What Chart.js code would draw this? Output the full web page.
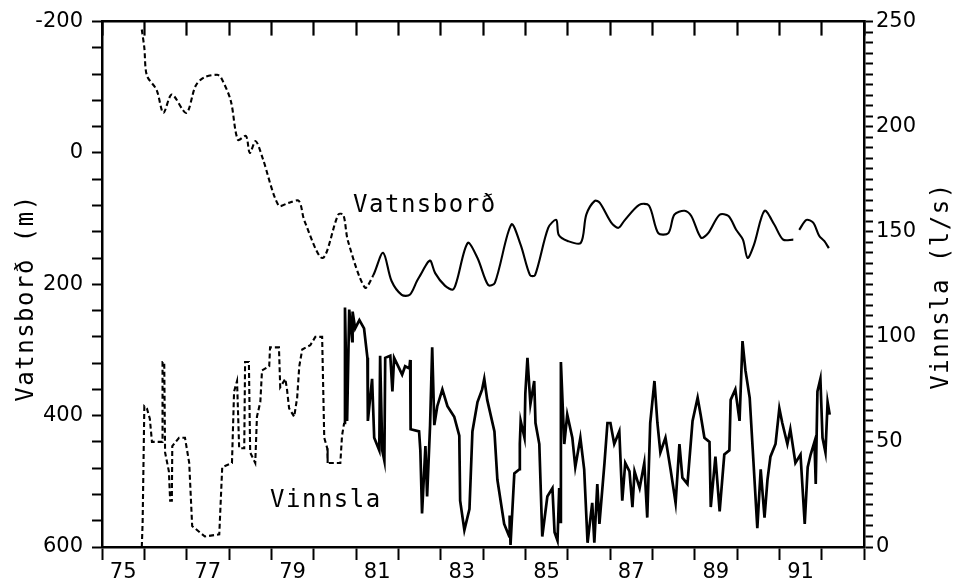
<!DOCTYPE html>
<html lang="is">
<head>
    <meta charset="UTF-8">
    <title>Vatnsborð og vinnsla</title>
    <script src="https://cdn.jsdelivr.net/npm/chart.js"></script>
    <style>
        body { margin: 0; background: #fff; }
    </style>
</head>
<body>
    <canvas id="levelChart" width="957" height="581"></canvas>

    <script>
        // Vatnsborð (m), left axis, reversed. null = gap in the record
        var waterYears = [75.94, 76.00, 76.06, 76.29, 76.45, 76.65, 76.99, 77.21, 77.41, 77.72, 77.81,
            78.04, 78.21, 78.40, 78.49, 78.63, 78.79, 79.17, 79.41, 79.65, 79.78, 80.21, 80.58, 80.70,
            80.81, 81.21, 81.41, 81.64, 81.84, 82.08, 82.27, 82.44, 82.52, 82.69, 82.76, 82.87, 83.10,
            83.29, 83.38, 83.64, 83.87, 84.12, 84.28, 84.67, 84.89, 85.11, 85.23, 85.54, 85.73, 85.79,
            86.00, 86.31, 86.44, 86.64, 86.76, 87.03, 87.20, 87.34, 87.69, 87.92, 88.14, 88.38, 88.52,
            88.76, 88.92, 89.15, 89.32, 89.59, 89.80, 89.98, 90.14, 90.25, 90.40, 90.65, 90.88, 91.09,
            91.33, 91.40, 91.47, 91.64, 91.80, 91.94, 92.06, 92.17];
        var waterLevel = [-188, -160, -118, -96, -61, -89, -61, -102, -115, -119, -115,
            -80, -20, -26, 0, -18, 7, 80, 76, 73, 103, 160, 94, 94,
            134, 205, 186, 152, 195, 216, 216, 195, 186, 167, 164, 183, 202,
            208, 195, 137, 160, 201, 198, 109, 140, 186, 186, 114, 102, 125,
            134, 137, 94, 73, 76, 106, 114, 103, 79, 80, 122, 122, 94,
            88, 96, 129, 122, 94, 96, 117, 132, 160, 140, 88, 109, 132,
            132, null, 117, 102, 106, 126, 134, 145];
        var waterDashedUntil = 81.45;

        // Vinnsla (l/s), right axis
        var prodYears = [75.94, 75.96, 76.00, 76.06, 76.13, 76.18, 76.42, 76.43, 76.47, 76.49, 76.58,
            76.61, 76.65, 76.66, 76.82, 76.96, 77.06, 77.13, 77.43, 77.77, 77.84, 78.07, 78.12, 78.19,
            78.24, 78.36, 78.38, 78.47, 78.50, 78.62, 78.66, 78.74, 78.78, 78.95, 78.97, 79.18, 79.21,
            79.33, 79.37, 79.42, 79.54, 79.61, 79.66, 79.73, 79.92, 80.04, 80.20, 80.25, 80.32, 80.33,
            80.63, 80.67, 80.72,
            80.74, 80.79, 80.84, 80.91, 80.92, 80.98, 81.08, 81.19, 81.27, 81.28, 81.38, 81.43, 81.55,
            81.57, 81.62, 81.67, 81.69, 81.81, 81.86, 81.90, 82.02, 82.09, 82.16, 82.26, 82.28, 82.29,
            82.49, 82.52, 82.56, 82.64, 82.68, 82.75, 82.80, 82.85, 82.92, 83.04, 83.16, 83.32, 83.44,
            83.46, 83.56, 83.68, 83.75, 83.87, 83.98, 84.03, 84.10, 84.27, 84.34, 84.50, 84.62, 84.63,
            84.65, 84.74, 84.86, 84.87, 84.89, 84.98, 85.00, 85.05, 85.12, 85.21, 85.24, 85.33, 85.40,
            85.52, 85.64, 85.69, 85.76, 85.80, 85.83, 85.84, 85.92, 85.99, 86.11, 86.18, 86.30, 86.39,
            86.47, 86.58, 86.63, 86.70, 86.75, 86.87, 86.94, 87.01, 87.10, 87.22, 87.29, 87.36, 87.46,
            87.53, 87.58, 87.70, 87.81, 87.88, 87.95, 88.05, 88.12, 88.19, 88.31, 88.43, 88.55, 88.64,
            88.71, 88.83, 88.95, 89.07, 89.14, 89.23, 89.35, 89.38, 89.49, 89.59, 89.70, 89.82, 89.85,
            89.96, 90.06, 90.13, 90.20, 90.30, 90.37, 90.48, 90.56, 90.65, 90.72, 90.79, 90.91, 91.00,
            91.07, 91.19, 91.26, 91.38, 91.50, 91.60, 91.67, 91.74, 91.83, 91.86, 91.90, 91.97, 92.02,
            92.09, 92.14, 92.19];
        var prodRate = [0, 12, 67, 66, 61, 50, 50, 88, 88, 45, 36,
            22, 22, 48, 52, 52, 40, 10, 5, 6, 38, 40, 74, 79,
            47, 47, 88, 88, 45, 40, 62, 69, 84, 86, 95, 95, 76,
            80, 75, 66, 62, 71, 86, 94, 96, 100, 100, 52, 47, 40,
            40, 53, 59,
            114, 60, 113, 98, 112, 104, 108, 104, 90, 60, 80, 52, 46,
            91, 46, 41, 90, 91, 74, 90, 85, 82, 86, 85, 89, 56,
            55, 46, 16, 48, 24, 58, 95, 58, 67, 75, 67, 62, 53,
            22, 8, 18, 55, 69, 75, 80, 70, 55, 32, 11, 5, 15,
            1, 35, 37, 49, 60, 52, 73, 90, 68, 79, 59, 49, 5,
            24, 28, 7, 3, 28, 12, 88, 49, 63, 52, 38, 52, 37,
            2, 21, 2, 30, 11, 40, 59, 59, 49, 55, 22, 40, 36,
            19, 36, 28, 40, 14, 59, 79, 59, 45, 52, 37, 21, 49,
            33, 30, 60, 71, 63, 52, 50, 19, 43, 17, 44, 46, 70,
            75, 60, 98, 84, 71, 47, 9, 37, 14, 32, 43, 49, 66,
            59, 49, 56, 40, 44, 11, 38, 44, 50, 30, 74, 80, 52,
            45, 69, 63];
        var prodDashedUntil = 80.73;

        // axis ticks
        var yearTicks = [75, 76, 77, 78, 79, 80, 81, 82, 83, 84, 85, 86, 87, 88, 89, 90, 91, 92, 93];
        var labelYears = [75, 77, 79, 81, 83, 85, 87, 89, 91];
        var levelTicks = [-200, -160, -120, -80, -40, 0, 40, 80, 120, 160, 200, 240, 280, 320, 360,
            400, 440, 480, 520, 560, 600];
        var levelLabels = [-200, 0, 200, 400, 600];
        var rateLabels = [0, 50, 100, 150, 200, 250];

        var tickFont = { family: 'DejaVu Sans', size: 21 };
        var textFont = '24px "DejaVu Sans Mono"';

        function points(xs, ys) {
            return xs.map(function (x, i) { return { x: x, y: ys[i] }; });
        }

        // every 5 l/s gets a tick mark on the right axis
        var rateTicks = [];
        for (var r = 0; r <= 250; r += 5) rateTicks.push(r);

        // year labels sit in the middle of the year, between the tick marks
        var xTicks = yearTicks.concat(labelYears.map(function (y) { return y + 0.5; }))
            .sort(function (a, b) { return a - b; });

        // series names inside the plot and the two axis titles (both read upwards)
        var textPlugin = {
            id: 'textPlugin',
            afterDraw: function (chart) {
                var c = chart.ctx, s = chart.scales;
                c.save();
                c.fillStyle = '#000';
                c.font = textFont;
                c.letterSpacing = '1.5px';
                c.textAlign = 'left';
                c.textBaseline = 'alphabetic';
                c.fillText('Vatnsborð', s.x.getPixelForValue(80.93), s.y.getPixelForValue(90));
                c.fillText('Vinnsla', s.x.getPixelForValue(78.97), s.y2.getPixelForValue(19));

                c.textAlign = 'center';
                c.textBaseline = 'middle';
                c.translate(27, 298);
                c.rotate(-Math.PI / 2);
                c.fillText('Vatnsborð (m)', 0, 0);
                c.rotate(Math.PI / 2);
                c.translate(942 - 27, 286 - 298);
                c.rotate(-Math.PI / 2);
                c.fillText('Vinnsla (l/s)', 0, 0);
                c.restore();
            }
        };

        var ctx = document.getElementById('levelChart').getContext('2d');
        var levelChart = new Chart(ctx, {
            type: 'line',
            data: {
                datasets: [{
                    label: 'Vatnsborð',
                    data: points(waterYears, waterLevel),
                    yAxisID: 'y',
                    borderColor: '#000',
                    borderWidth: 2.1,
                    pointRadius: 0,
                    tension: 0.3,
                    spanGaps: false,
                    segment: {
                        borderDash: function (c) { return c.p1.parsed.x <= waterDashedUntil ? [5, 3] : []; }
                    }
                }, {
                    label: 'Vinnsla',
                    data: points(prodYears, prodRate),
                    yAxisID: 'y2',
                    borderColor: '#000',
                    borderWidth: 2.7,
                    pointRadius: 0,
                    tension: 0,
                    segment: {
                        borderDash: function (c) { return c.p1.parsed.x <= prodDashedUntil ? [5, 3] : []; },
                        borderWidth: function (c) { return c.p1.parsed.x <= prodDashedUntil ? 2.1 : 2.7; }
                    }
                }]
            },
            options: {
                responsive: false,
                animation: false,
                layout: { padding: { top: 21 } },
                plugins: { legend: { display: false }, tooltip: { enabled: false } },
                scales: {
                    x: {
                        type: 'linear',
                        position: 'bottom',
                        min: 75,
                        max: 93,
                        afterBuildTicks: function (s) { s.ticks = xTicks.map(function (v) { return { value: v }; }); },
                        afterFit: function (s) { s.height = 34; },
                        grid: {
                            drawOnChartArea: false,
                            tickLength: 13,
                            tickWidth: 2,
                            tickColor: function (c) { return Number.isInteger(c.tick.value) ? '#000' : 'rgba(0,0,0,0)'; }
                        },
                        border: { color: '#000', width: 2.5 },
                        ticks: {
                            autoSkip: false,
                            maxRotation: 0,
                            padding: 0,
                            color: '#000',
                            font: tickFont,
                            callback: function (v) { return Number.isInteger(v) ? '' : String(v - 0.5); }
                        }
                    },
                    // top frame: a zero-height axis whose year ticks point into the plot
                    xTop: {
                        type: 'linear',
                        position: 'top',
                        min: 75,
                        max: 93,
                        afterBuildTicks: function (s) { s.ticks = yearTicks.map(function (v) { return { value: v }; }); },
                        afterFit: function (s) { s.height = 0; },
                        grid: { drawOnChartArea: false, tickLength: -14, tickWidth: 2.2, tickColor: '#000' },
                        border: { color: '#000', width: 2.5 },
                        ticks: { display: false }
                    },
                    y: {
                        position: 'left',
                        min: -200,
                        max: 600,
                        reverse: true,
                        afterBuildTicks: function (s) { s.ticks = levelTicks.map(function (v) { return { value: v }; }); },
                        afterFit: function (s) { s.width = 102; },
                        grid: { drawOnChartArea: false, tickLength: 10, tickWidth: 2, tickColor: '#000' },
                        border: { color: '#000', width: 2.5 },
                        ticks: {
                            autoSkip: false,
                            padding: 9,
                            color: '#000',
                            font: tickFont,
                            callback: function (v) { return levelLabels.indexOf(v) >= 0 ? String(v) : ''; }
                        }
                    },
                    y2: {
                        position: 'right',
                        min: 0,
                        max: 250,
                        afterBuildTicks: function (s) { s.ticks = rateTicks.map(function (v) { return { value: v }; }); },
                        afterFit: function (s) { s.width = 93; },
                        grid: { drawOnChartArea: false, tickLength: 9, tickWidth: 2, tickColor: '#000' },
                        border: { color: '#000', width: 2.5 },
                        ticks: {
                            autoSkip: false,
                            padding: 3,
                            color: '#000',
                            font: tickFont,
                            callback: function (v) { return rateLabels.indexOf(v) >= 0 ? String(v) : ''; }
                        }
                    }
                }
            },
            plugins: [textPlugin]
        });
    </script>
</body>
</html>
